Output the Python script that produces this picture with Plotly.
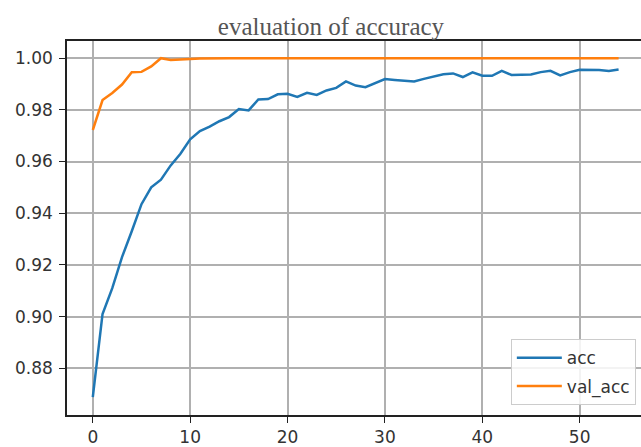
import plotly.graph_objects as go

epochs = list(range(55))
acc = [0.8688, 0.901, 0.911, 0.923, 0.933, 0.9435, 0.950, 0.953, 0.9585, 0.963,
       0.9686, 0.9718, 0.9735, 0.9756, 0.9772, 0.9803, 0.9798, 0.984, 0.9842, 0.986,
       0.9862, 0.985, 0.9866, 0.9858, 0.9875, 0.9885, 0.991, 0.9894, 0.9888, 0.9904,
       0.9919, 0.9916, 0.9914, 0.991, 0.992, 0.9928, 0.9938, 0.9941, 0.9927, 0.9945,
       0.9932, 0.9932, 0.9951, 0.9935, 0.9937, 0.9937, 0.9946, 0.9951, 0.9933, 0.9946,
       0.9955, 0.9954, 0.9954, 0.995, 0.9956]
val_acc = [0.9722, 0.9838, 0.9865, 0.9898, 0.9946, 0.9947, 0.9968, 1.0, 0.9993, 0.9996,
           0.9997, 0.9999] + [1.0] * 43
x_ticks = [0, 10, 20, 30, 40, 50]
y_ticks = [0.88, 0.90, 0.92, 0.94, 0.96, 0.98, 1.00]

fig = go.Figure()
fig.add_trace(go.Scatter(x=epochs, y=acc, mode="lines", name="acc", legendgroup="a",
                         line=dict(color="#1f77b4", width=2.5)))
fig.add_trace(go.Scatter(x=epochs, y=val_acc, mode="lines", name="val_acc", legendgroup="b",
                         line=dict(color="#ff7f0e", width=2.5)))

fig.update_layout(
    width=641, height=447,
    margin=dict(l=67, r=0, t=41, b=30),
    paper_bgcolor="white", plot_bgcolor="white",
    title=dict(text="evaluation of accuracy", x=331/641, xanchor="center",
               y=1-26/447, yanchor="middle", xref="container", yref="container",
               font=dict(family="Liberation Serif", size=25, color="#555555")),
    font=dict(family="DejaVu Sans", size=17, color="#333333"),
    legend=dict(x=0.991, y=0.026, xanchor="right", yanchor="bottom",
                bgcolor="rgba(255,255,255,0.85)", bordercolor="#cccccc", borderwidth=1,
                traceorder="grouped", tracegroupgap=3, itemwidth=45,
                font=dict(size=17, color="#333333")),
    showlegend=True,
)
fig.update_xaxes(range=[-2.65, 56.3], tickvals=x_ticks, showgrid=True,
                 gridcolor="#b0b0b0", gridwidth=1.5, zeroline=False,
                 showline=True, linecolor="#222222", linewidth=1.5, mirror=True,
                 ticks="outside", ticklen=6, tickcolor="#222222")
fig.update_yaxes(range=[0.8619, 1.00665], tickvals=y_ticks, tickformat=".2f",
                 showgrid=True, gridcolor="#b0b0b0", gridwidth=1.5, zeroline=False,
                 showline=True, linecolor="#222222", linewidth=1.5, mirror=False,
                 ticks="outside", ticklen=6, tickcolor="#222222", ticklabelstandoff=3)

fig.write_html("out.html", config={"displayModeBar": False})

with open("out.html", "r", encoding="utf-8") as f:
    html = f.read()
html = html.replace("<body>", '<body style="margin:0;padding:0;overflow:hidden">', 1)
with open("out.html", "w", encoding="utf-8") as f:
    f.write(html)
